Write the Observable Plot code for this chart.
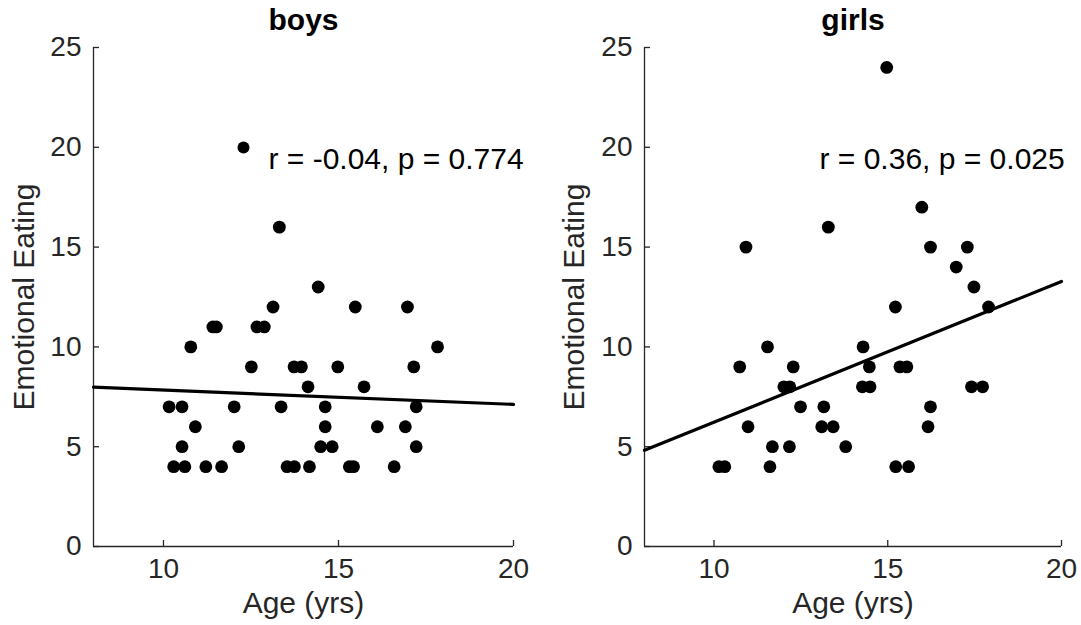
<!DOCTYPE html>
<html>
<head>
<meta charset="utf-8">
<script src="https://cdn.jsdelivr.net/npm/d3@7"></script>
<script src="https://cdn.jsdelivr.net/npm/@observablehq/plot@0.6"></script>
<style>
  html, body { margin: 0; padding: 0; background: #fff; }
  #wrap { display: flex; width: 1081px; height: 625px; }
  #wrap svg { display: block; }
</style>
</head>
<body>
<div id="wrap"></div>
<script>
// ---- data ----
const panels = ["boys", "girls"];
const xTicks = [10, 15, 20];
const yTicks = [0, 5, 10, 15, 20, 25];
const xDomain = [8, 20];
const yDomain = [0, 25];
const xLabel = "Age (yrs)";
const yLabel = "Emotional Eating";

const boysAge = [13.31, 14.42, 13.13, 15.48, 16.97, 11.41, 11.51, 12.67, 12.88, 10.78, 17.83,
  12.51, 13.73, 13.94, 14.98, 17.15, 14.13, 15.73,
  10.16, 10.53, 12.02, 13.36, 14.62, 17.22,
  10.91, 14.62, 16.11, 16.91,
  10.53, 12.15, 14.49, 14.82, 17.22,
  10.29, 10.61, 11.21, 11.66, 13.53, 13.74, 14.17, 15.31, 15.43, 16.59];
const boysEE = [16, 13, 12, 12, 12, 11, 11, 11, 11, 10, 10,
  9, 9, 9, 9, 9, 8, 8,
  7, 7, 7, 7, 7, 7,
  6, 6, 6, 6,
  5, 5, 5, 5, 5,
  4, 4, 4, 4, 4, 4, 4, 4, 4, 4];

const girlsAge = [14.97, 15.98, 13.29, 10.92, 16.23, 17.29, 16.97, 17.48, 15.22, 17.9,
  11.54, 14.29, 10.74, 12.28, 14.47, 15.35, 15.55,
  12.01, 12.18, 14.27, 14.49, 17.41, 17.73,
  12.49, 13.16, 16.23,
  10.98, 13.1, 13.43, 16.16,
  11.68, 12.17, 13.79,
  10.14, 10.31, 11.61, 15.23, 15.6];
const girlsEE = [24, 17, 16, 15, 15, 15, 14, 13, 12, 12,
  10, 10, 9, 9, 9, 9, 9,
  8, 8, 8, 8, 8, 8,
  7, 7, 7,
  6, 6, 6, 6,
  5, 5, 5,
  4, 4, 4, 4, 4];

// least-squares fit lines, evaluated at the x-domain ends
const fitX = [8, 20];
const boysFitY = [7.98, 7.12];
const girlsFitY = [4.82, 13.28];

const boysStat = ["r = -0.04, p = 0.774"];
const girlsStat = ["r = 0.36, p = 0.025"];

// ---- drawing ----
const FONT = "'Liberation Sans', Arial, Helvetica, sans-serif";
const INK = "#262626";

function panel({title, age, ee, fitY, stat, legendDot, width, marginLeft, marginRight, labelDx}) {
  const marks = [
    Plot.ruleX([xDomain[0]], {stroke: INK, strokeWidth: 1.3}),
    Plot.ruleY([yDomain[0]], {stroke: INK, strokeWidth: 1.3}),
    Plot.axisX({ticks: xTicks, tickSize: -6, tickPadding: 18, label: null, fontSize: 28, strokeWidth: 1.3}),
    Plot.axisY({ticks: yTicks, tickSize: -6, tickPadding: 18, label: null, fontSize: 28, strokeWidth: 1.3}),
    Plot.line(fitX, {x: fitX, y: fitY, stroke: "black", strokeWidth: 3.2}),
    Plot.dot(age, {x: age, y: ee, r: 6.4, fill: "black", stroke: "none"}),
    Plot.text([title], {frameAnchor: "top", dy: -18, lineAnchor: "bottom", fontSize: 30, fontWeight: "bold", fill: "black"}),
    Plot.text([xLabel], {frameAnchor: "bottom", dy: 66, fontSize: 30, fill: INK}),
    Plot.text([yLabel], {frameAnchor: "left", textAnchor: "middle", dx: labelDx, rotate: -90, fontSize: 30, fill: INK}),
    Plot.text(stat, {frameAnchor: "top-left", dx: 175, dy: 100, textAnchor: "start", fontSize: 30, fill: "black"})
  ];
  if (legendDot) marks.push(Plot.dot([0], {frameAnchor: "top-left", dx: 150, dy: 100, r: 6, fill: "black", stroke: "none"}));
  return Plot.plot({
    width,
    height: 625,
    marginLeft,
    marginRight,
    marginTop: 47,
    marginBottom: 79,
    x: {domain: xDomain},
    y: {domain: yDomain},
    style: {fontFamily: FONT, fontSize: "28px", color: INK, background: "white", overflow: "visible"},
    marks
  });
}

const wrap = document.getElementById("wrap");
wrap.appendChild(panel({title: panels[0], age: boysAge, ee: boysEE, fitY: boysFitY, stat: boysStat, legendDot: true,
  width: 540, marginLeft: 93, marginRight: 27, labelDx: -69}));
wrap.appendChild(panel({title: panels[1], age: girlsAge, ee: girlsEE, fitY: girlsFitY, stat: girlsStat, legendDot: false,
  width: 541, marginLeft: 104, marginRight: 20, labelDx: -70}));
</script>
</body>
</html>
